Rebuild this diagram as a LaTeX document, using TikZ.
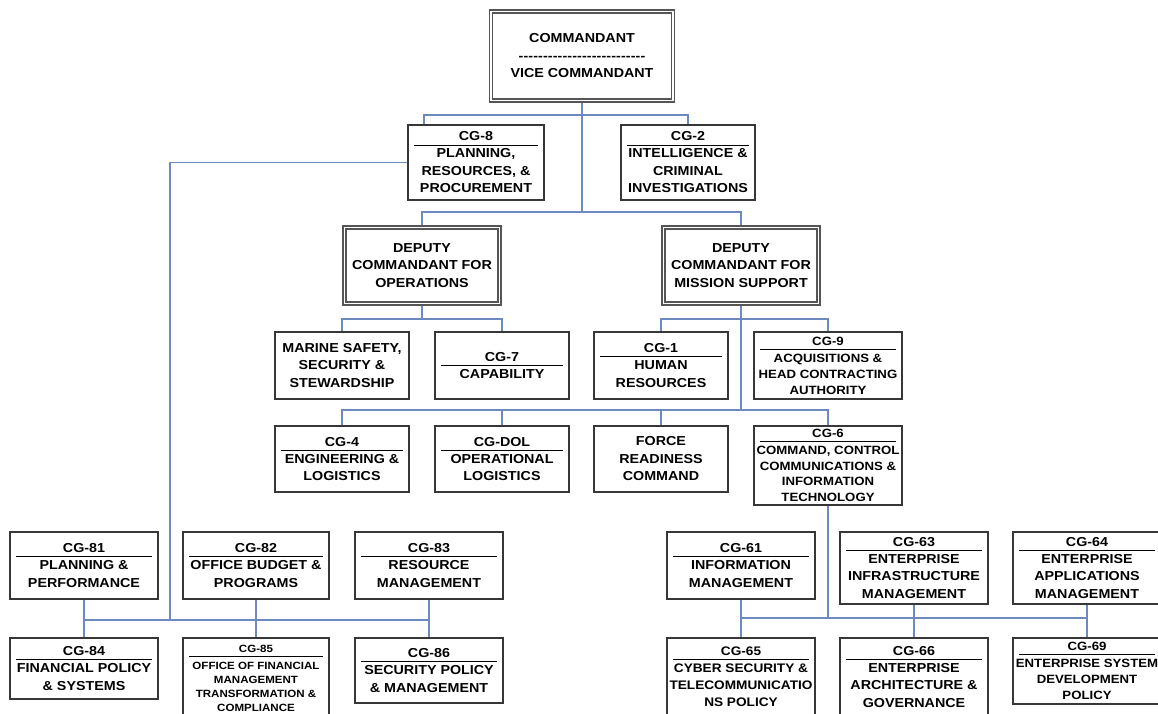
\documentclass[tikz,border=0pt]{standalone}
\usepackage{fontspec}
\setmainfont{Liberation Sans}[FakeStretch=1.1]
\definecolor{conector}{RGB}{108,138,190}
\definecolor{borde}{RGB}{55,55,55}
\newcommand{\titlerule}{\\[\dimexpr4.5pt-\baselineskip\relax]\rule{\dimexpr\pgfshapeminwidth-12pt\relax}{0.9pt}\\[\dimexpr12.5pt-\baselineskip\relax]}
\newcommand{\dashrow}{\makebox[127pt]{\xleaders\hbox{-}\hfill}}

\begin{document}
\begin{tikzpicture}[x=1pt,y=-1pt]
		\tikzstyle{every node}=[font=\fontsize{13}{17.5}\selectfont\bfseries]
		\tikzstyle{caja} = [draw=borde, line width=1.3pt, fill=white, align=center, inner sep=0pt]
		\tikzstyle{doble} = [caja, draw=borde!85, line width=1.5pt, double=white, double distance=1.8pt, outer sep=2.4pt]
		\tikzstyle{chica} = [font=\fontsize{12}{16}\selectfont\bfseries]
		\tikzstyle{mini} = [font=\fontsize{10.5}{14}\selectfont\bfseries]
		\tikzstyle{linea} = [draw=conector, line width=1.4pt]

		\path[fill=white] (0,0) rectangle (1158,713);
		\useasboundingbox (0,0) rectangle (1158,713);

		\coordinate (y1) at (0,115);
		\coordinate (y2) at (0,212);
		\coordinate (y3) at (0,319);
		\coordinate (y4) at (0,410);
		\coordinate (y5) at (0,620);
		\coordinate (y6) at (0,618);
		\coordinate (c8) at (170,620);

		\draw (582,56) node[doble, minimum width=182pt, minimum height=89pt](cmdt){COMMANDANT\\\dashrow\\VICE COMMANDANT};
		\draw (476,162.5) node[caja, minimum width=136pt, minimum height=75pt](cg8){CG-8\titlerule PLANNING,\\RESOURCES, \&\\PROCUREMENT};
		\draw (688,162.5) node[caja, minimum width=134pt, minimum height=75pt](cg2){CG-2\titlerule INTELLIGENCE \&\\CRIMINAL\\INVESTIGATIONS};
		\draw (422,265.5) node[doble, minimum width=155pt, minimum height=76pt](dco){DEPUTY\\COMMANDANT FOR\\OPERATIONS};
		\draw (741,265.5) node[doble, minimum width=155pt, minimum height=76pt](dcms){DEPUTY\\COMMANDANT FOR\\MISSION SUPPORT};

		\draw (342,365.5) node[caja, minimum width=134pt, minimum height=67pt](mss){MARINE SAFETY,\\SECURITY \&\\STEWARDSHIP};
		\draw (502,365.5) node[caja, minimum width=134pt, minimum height=67pt](cg7){CG-7\titlerule CAPABILITY};
		\draw (661,365.5) node[caja, minimum width=134pt, minimum height=67pt](cg1){CG-1\titlerule HUMAN\\RESOURCES};
		\draw (828,365.5) node[caja, chica, minimum width=148pt, minimum height=67pt](cg9){CG-9\titlerule ACQUISITIONS \&\\HEAD CONTRACTING\\AUTHORITY};

		\draw (342,459) node[caja, minimum width=134pt, minimum height=66pt](cg4){CG-4\titlerule ENGINEERING \&\\LOGISTICS};
		\draw (502,459) node[caja, minimum width=134pt, minimum height=66pt](cgdol){CG-DOL\titlerule OPERATIONAL\\LOGISTICS};
		\draw (661,459) node[caja, minimum width=134pt, minimum height=66pt](frc){FORCE\\READINESS\\COMMAND};
		\draw (828,465.5) node[caja, font=\fontsize{12}{15.5}\selectfont\bfseries, minimum width=148pt, minimum height=79pt](cg6){CG-6\titlerule COMMAND, CONTROL\\COMMUNICATIONS \&\\INFORMATION\\TECHNOLOGY};

		\draw (84,565.5) node[caja, minimum width=148pt, minimum height=67pt](cg81){CG-81\titlerule PLANNING \&\\PERFORMANCE};
		\draw (256,565.5) node[caja, minimum width=146pt, minimum height=67pt](cg82){CG-82\titlerule OFFICE BUDGET \&\\PROGRAMS};
		\draw (429,565.5) node[caja, minimum width=148pt, minimum height=67pt](cg83){CG-83\titlerule RESOURCE\\MANAGEMENT};
		\draw (84,668.5) node[caja, minimum width=148pt, minimum height=61pt](cg84){CG-84\titlerule FINANCIAL POLICY\\\& SYSTEMS};
		\draw (256,678) node[caja, mini, minimum width=146pt, minimum height=80pt](cg85){CG-85\titlerule OFFICE OF FINANCIAL\\MANAGEMENT\\TRANSFORMATION \&\\COMPLIANCE};
		\draw (429,670.5) node[caja, minimum width=148pt, minimum height=65pt](cg86){CG-86\titlerule SECURITY POLICY\\\& MANAGEMENT};

		\draw (741,565.5) node[caja, minimum width=148pt, minimum height=67pt](cg61){CG-61\titlerule INFORMATION\\MANAGEMENT};
		\draw (914,568) node[caja, minimum width=148pt, minimum height=72pt](cg63){CG-63\titlerule ENTERPRISE\\INFRASTRUCTURE\\MANAGEMENT};
		\draw (1087,568) node[caja, minimum width=148pt, minimum height=72pt](cg64){CG-64\titlerule ENTERPRISE\\APPLICATIONS\\MANAGEMENT};
		\draw (741,677) node[caja, font=\fontsize{12.4}{17}\selectfont\bfseries, minimum width=148pt, minimum height=78pt](cg65){CG-65\titlerule CYBER SECURITY \&\\TELECOMMUNICATIO\\NS POLICY};
		\draw (914,677) node[caja, minimum width=148pt, minimum height=78pt](cg66){CG-66\titlerule ENTERPRISE\\ARCHITECTURE \&\\GOVERNANCE};
		\draw (1087,671) node[caja, chica, minimum width=148pt, minimum height=66pt](cg69){CG-69\titlerule ENTERPRISE SYSTEM\\DEVELOPMENT\\POLICY};

		\draw[linea] (cmdt.south) -- (cmdt.south |- y2);
		\draw[linea] ([xshift=-52pt]cg8.north) |- (cg2.north |- y1) -- (cg2.north);
		\draw[linea] (dco.north) |- (dcms.north |- y2) -- (dcms.north);
		\draw[linea] (cg8.west) -| (c8);
		\draw[linea] (dco.south) -- (dco.south |- y3);
		\draw[linea] (mss.north) |- (cg7.north |- y3) -- (cg7.north);
		\draw[linea] (dcms.south) -- (dcms.south |- y4);
		\draw[linea] (cg1.north) |- (cg9.north |- y3) -- (cg9.north);
		\draw[linea] (cg4.north) |- (cg6.north |- y4) -- (cg6.north);
		\draw[linea] (cgdol.north) -- (cgdol.north |- y4);
		\draw[linea] (frc.north) -- (frc.north |- y4);

		\draw[linea] (cg81.south |- y5) -- (cg83.south |- y5);
		\draw[linea] (cg81) -- (cg84);
		\draw[linea] (cg82) -- (cg85);
		\draw[linea] (cg83) -- (cg86);

		\draw[linea] (cg6.south) -- (cg6.south |- y6);
		\draw[linea] (cg61.south |- y6) -- (cg64.south |- y6);
		\draw[linea] (cg61) -- (cg65);
		\draw[linea] (cg63) -- (cg66);
		\draw[linea] (cg64) -- (cg69);
	\end{tikzpicture}
\end{document}
